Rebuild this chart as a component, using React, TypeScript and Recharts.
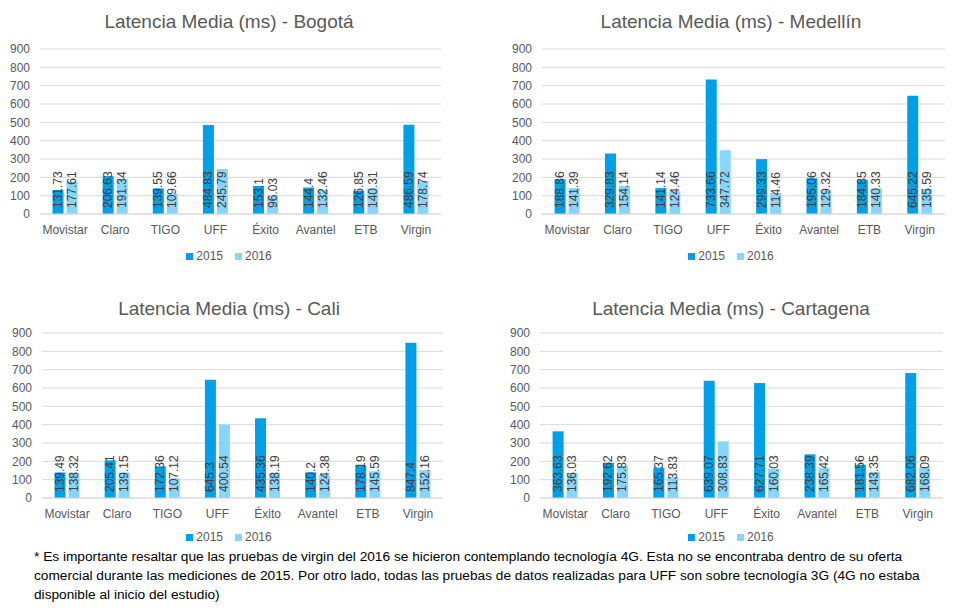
import React from 'react';
import { BarChart, Bar, XAxis, YAxis, CartesianGrid, LabelList } from 'recharts';

const categories = ['Movistar', 'Claro', 'TIGO', 'UFF', 'Éxito', 'Avantel', 'ETB', 'Virgin'];
const yTicks = [0, 100, 200, 300, 400, 500, 600, 700, 800, 900];

const bogota2015 = [131.73, 206.63, 139.55, 484.83, 153.1, 144.4, 126.85, 486.59];
const bogota2016 = [177.61, 191.34, 109.66, 245.79, 96.03, 132.46, 140.31, 178.74];
const medellin2015 = [188.86, 329.83, 141.14, 733.66, 299.33, 195.06, 184.85, 645.22];
const medellin2016 = [141.39, 154.14, 124.46, 347.72, 114.46, 129.32, 140.33, 135.59];
const cali2015 = [139.49, 205.41, 172.36, 645.3, 435.36, 140.2, 178.19, 847.4];
const cali2016 = [138.32, 139.15, 107.12, 400.54, 138.19, 124.38, 145.59, 152.16];
const cartagena2015 = [363.63, 192.62, 165.37, 639.07, 627.71, 238.39, 181.56, 682.06];
const cartagena2016 = [136.03, 175.83, 113.83, 308.83, 160.03, 165.42, 143.35, 168.09];

const footnoteLines = [
  '* Es importante resaltar que las pruebas de virgin del 2016 se hicieron contemplando tecnología 4G. Esta no se encontraba dentro de su oferta',
  'comercial durante las mediciones de 2015. Por otro lado, todas las pruebas de datos realizadas para UFF son sobre tecnología 3G (4G no estaba',
  'disponible al inicio del estudio)',
];

const C2015 = '#00A0E9';
const C2016 = '#86D6FF';
const FONT = '"Liberation Sans", Arial, sans-serif';

const build = (a: number[], b: number[]) =>
  categories.map((c, i) => ({ name: c, y2015: a[i], y2016: b[i] }));

const renderLabel = (props: any) => {
  const { x, y, width, height, value } = props;
  const cx = Number(x) + Number(width) / 2;
  const by = Number(y) + Number(height) - 6;
  return (
    <text
      x={cx}
      y={by}
      transform={`rotate(-90 ${cx} ${by})`}
      textAnchor="start"
      dominantBaseline="central"
      fontSize={12}
      fontFamily={FONT}
      fill="#404040"
    >
      {value}
    </text>
  );
};

type PanelProps = {
  title: string;
  data: { name: string; y2015: number; y2016: number }[];
  left: number;
  top: number;
  mLeft: number;
  mRight: number;
  mTop: number;
  center: number;
  titleY: number;
  legendY: number;
};

const Panel = ({ title, data, left, top, mLeft, mRight, mTop, center, titleY, legendY }: PanelProps) => (
  <>
    <div
      style={{
        position: 'absolute',
        left: center - 240,
        width: 480,
        top: titleY - 12,
        height: 24,
        lineHeight: '24px',
        textAlign: 'center',
        fontSize: 19,
        color: '#595959',
        fontFamily: FONT,
      }}
    >
      {title}
    </div>
    <div style={{ position: 'absolute', left, top }}>
      <BarChart
        width={480}
        height={240 + (mTop - 49)}
        data={data}
        margin={{ top: mTop, right: mRight, bottom: 0, left: mLeft }}
        barCategoryGap="25%"
        barGap={3}
      >
        <CartesianGrid vertical={false} stroke="#D9D9D9" />
        <XAxis
          dataKey="name"
          height={26}
          tickLine={false}
          axisLine={{ stroke: '#D9D9D9' }}
          tickMargin={5}
          tick={{ fontSize: 12, fill: '#595959', fontFamily: FONT }}
          interval={0}
        />
        <YAxis
          width={40}
          domain={[0, 900]}
          ticks={yTicks}
          interval={0}
          tickLine={false}
          axisLine={false}
          tickMargin={4}
          tick={{ fontSize: 12, fill: '#595959', fontFamily: FONT }}
        />
        <Bar dataKey="y2015" fill={C2015} isAnimationActive={false}>
          <LabelList dataKey="y2015" content={renderLabel} />
        </Bar>
        <Bar dataKey="y2016" fill={C2016} isAnimationActive={false}>
          <LabelList dataKey="y2016" content={renderLabel} />
        </Bar>
      </BarChart>
    </div>
    <div
      style={{
        position: 'absolute',
        left: center - 120,
        width: 240,
        top: legendY - 8,
        height: 16,
        display: 'flex',
        justifyContent: 'center',
        alignItems: 'center',
        fontSize: 12,
        color: '#595959',
        fontFamily: FONT,
      }}
    >
      <span style={{ display: 'inline-block', width: 7, height: 7, background: C2015, marginRight: 3 }} />
      <span style={{ marginRight: 12 }}>2015</span>
      <span style={{ display: 'inline-block', width: 7, height: 7, background: C2016, marginRight: 3 }} />
      <span>2016</span>
    </div>
  </>
);

export default function App() {
  return (
    <div
      style={{
        position: 'absolute',
        left: 0,
        top: 0,
        width: 960,
        height: 609,
        background: '#FFFFFF',
        overflow: 'hidden',
        fontFamily: FONT,
      }}
    >
      <Panel title="Latencia Media (ms) - Bogotá" data={build(bogota2015, bogota2016)} left={0} top={0} mLeft={0} mRight={39} mTop={49} center={229} titleY={22} legendY={256} />
      <Panel title="Latencia Media (ms) - Medellín" data={build(medellin2015, medellin2016)} left={480} top={0} mLeft={22} mRight={15} mTop={49} center={731} titleY={22} legendY={256} />
      <Panel title="Latencia Media (ms) - Cali" data={build(cali2015, cali2016)} left={0} top={283} mLeft={2} mRight={37} mTop={50} center={229} titleY={309} legendY={537} />
      <Panel title="Latencia Media (ms) - Cartagena" data={build(cartagena2015, cartagena2016)} left={480} top={283} mLeft={20} mRight={17} mTop={50} center={731} titleY={309} legendY={537} />
      <div
        style={{
          position: 'absolute',
          left: 34,
          top: 547,
          width: 920,
          fontSize: 13.7,
          lineHeight: '19px',
          color: '#000000',
          fontFamily: FONT,
          whiteSpace: 'nowrap',
        }}
      >
        {footnoteLines.map((l, i) => (
          <div key={i}>{l}</div>
        ))}
      </div>
    </div>
  );
}
